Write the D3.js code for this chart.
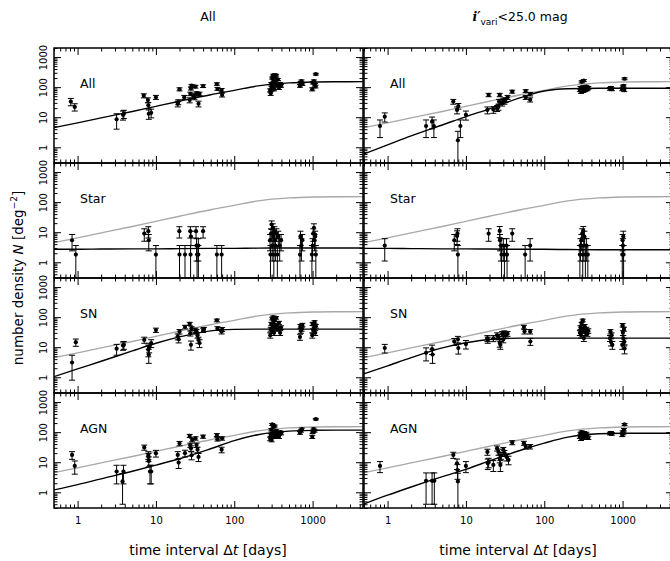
<!DOCTYPE html>
<html>
<head>
<meta charset="utf-8">
<script src="https://cdn.jsdelivr.net/npm/d3@7"></script>
<style>
  body { margin: 0; background: #fff; }
  text { font-family: "DejaVu Sans", sans-serif; fill: #000; }
</style>
</head>
<body>
<svg id="chart" width="670" height="561"></svg>
<script>
// ---- data: [dt days, N deg^-2, sigma] ----
const allAll = [[0.82,33,9],[0.92,22,6],[3.15,8.5,4.5],[3.8,12,4],[3.9,13,4],
  [7.0,52,8],[7.9,37,7],[8.0,25,6],[8.1,13,4.5],[8.7,14,4.5],[10,46,7],
  [19,28,6],[19.3,32,6],[20,85,10],[23,46,7],[27,37,7],[27.5,60,8],[28,90,10],[28.5,112,11],
  [30,52,8],[31,45,7],[32,104,11],[33,62,8],[34,58,8],[35,28,6],[36,60,8],[40,108,11],
  [60,127,12],[61,88,10],[69,80,10],[70,55,8],
  [288,78,10],[292,62,9],[297,130,12],[300,95,11],[305,200,15],[310,105,11],[315,250,17],
  [318,170,14],[322,85,10],[328,225,16],[335,140,13],[342,250,17],[350,115,12],[360,180,14],
  [372,95,11],[385,130,12],[395,110,11],
  [690,110,11],[705,140,13],[720,160,13],[740,125,12],
  [990,85,10],[1010,140,13],[1040,160,13],[1070,120,12],[1090,105,11],[1100,270,18]];

const allBright = [[0.8,5.1,3],[0.92,10.4,3.5],[3.1,5.1,3],[3.7,7.1,3],[3.9,5.1,3],
  [6.9,33,6],[7.7,17.4,4.5],[7.9,1.7,1.7],[8.0,23.6,5],[8.5,5.1,3],[10,12,4],
  [18.8,17.4,4.5],[19.5,55,7],[22.4,18,4.5],[25,20,4.5],[26,22,5],[26.5,33,6],[27,55,7],
  [29,29,5.5],[30,37,6],[31,33,6],[32,38,6],[34,46,7],[39,71,8],[58,74,8],[58,46,7],[66,59,8],[66,38,6],
  [285,80,9],[290,95,10],[295,70,8],[300,150,12],[305,85,9],[310,100,10],[315,75,9],[320,165,13],
  [328,90,10],[335,80,9],[345,105,10],[355,85,9],[365,95,10],
  [690,88,9],[710,95,10],[730,85,9],
  [990,85,9],[1010,100,10],[1030,110,10],[1050,80,9],[1060,190,14]];

const starAll = [[0.85,5.4,3],[0.95,1.8,1.8],[7.1,9,4],[8.0,10.8,4.4],[8.1,5.4,3],[10,1.8,1.8],
  [19.9,10.8,4.4],[20,1.8,1.8],[23.5,1.8,1.8],[27.5,10.8,4.4],[28,7.2,3.6],[27.7,1.8,1.8],
  [32.5,10.8,4.4],[33,3.6,2.5],[33.5,1.8,1.8],[34.8,3.6,2.5],[34.8,1.8,1.8],[40,10.8,4.4],
  [60,1.8,1.8],[69,1.8,1.8],
  [286,5.4,3],[290,1.8,1.8],[295,9,4],[300,18,5.7],[305,3.6,2.5],[310,14,5],[315,7.2,3.6],
  [320,1.8,1.8],[325,10.8,4.4],[330,5.4,3],[335,3.6,2.5],[345,9,4],[355,1.8,1.8],[365,7.2,3.6],
  [380,3.6,2.5],[396,5.4,3],
  [690,1.8,1.8],[700,7.2,3.6],[720,3.6,2.5],[740,5.4,3],
  [980,1.8,1.8],[1000,3.6,2.5],[1020,9,4],[1040,14,5],[1060,5.4,3],[1080,7.2,3.6],[1100,1.8,1.8]];

const starBright = [[0.92,3.6,2.5],[7.1,5.4,3],[7.7,7.5,3.6],[7.8,9,4],[7.9,1.8,1.8],[19.5,9,4],
  [27,11,4.4],[27.2,5.4,3],[28,3.6,2.5],[28.5,1.8,1.8],[30,3.6,2.5],[31,1.8,1.8],[33,3.6,2.5],
  [33.5,1.8,1.8],[39,9,4],[57,1.8,1.8],[66,3.6,2.5],
  [285,1.8,1.8],[290,3.6,2.5],[298,5.4,3],[305,9,4],[310,1.8,1.8],[315,11,4.4],[320,3.6,2.5],
  [325,7.2,3.6],[335,1.8,1.8],[345,3.6,2.5],[360,1.8,1.8],
  [990,1.8,1.8],[1000,5.4,3],[1010,3.6,2.5],[1020,7.2,3.6],[1030,1.8,1.8]];

const snAll = [[0.85,3.1,2.3],[0.95,14.7,4],[3.15,8.9,3.5],[3.8,11.4,3.5],[3.9,12,3.5],
  [7.1,17.5,4],[8.0,8.3,3.5],[8.1,5.7,2.8],[8.2,10,3.5],[8.7,13.7,4],[10,37,6],
  [19,22.5,5],[19.5,18.4,4.5],[20,33,5.5],[23.5,47,6.5],[27,60,7],[27.5,29,5.5],[28,12,4],
  [28.5,42,6],[32,37,6],[33,33,5.5],[34,25,5],[35,17.5,4],[36,13.7,4],[40,37,6],[41,39,6],
  [60,78,8],[61,42,6],[69,33,5.5],[70,39,6],
  [288,25,5],[292,40,6],[297,60,7],[300,35,6],[305,90,9],[310,50,7],[315,100,9],[318,70,8],
  [322,30,5.5],[328,80,8],[335,45,6.5],[342,95,9],[350,55,7],[360,40,6],[372,65,7.5],
  [385,30,5.5],[395,45,6.5],
  [690,22,5],[700,50,7],[710,35,6],[725,40,6],[740,55,7],
  [990,25,5],[1000,60,7],[1020,35,6],[1040,45,6.5],[1060,68,8],[1080,30,5.5],[1100,50,7]];

const snBright = [[0.92,9.4,3],[3.1,6.5,3],[3.7,8.7,3],[3.75,5.7,2.8],[7.1,15.5,4],[7.9,18.4,4.5],
  [8.0,9.4,3.5],[10,12.7,4],
  [18.8,19.8,4.5],[19,17.5,4],[22.4,19.8,4.5],[25,25,5],[26,22,4.5],[27,14,4],[27.5,12,3.5],
  [29,28,5],[30,18,4],[31,30,5],[32,25,5],[34,28,5],[55,47,6.5],[56,33,5.5],[66,33,5.5],[66.5,15.5,4],
  [285,30,5.5],[290,45,6.5],[295,25,5],[300,60,7],[305,35,6],[310,78,8],[315,40,6],[320,20,4.5],
  [328,50,7],[335,30,5.5],[345,40,6],[355,28,5],[365,35,6],
  [690,20,4.5],[700,33,5.5],[710,15,4],[725,25,5],[740,12,3.5],
  [990,12,3.5],[1000,54,7],[1010,30,5.5],[1020,20,4.5],[1040,40,6],[1050,15,4],[1060,9,3]];

const agnAll = [[0.85,17.4,5],[0.92,7.5,3.5],[3.15,4.9,3],[3.75,2.3,1.9],[3.85,4.9,3],
  [7.1,31,6],[8.0,17.4,5],[8.05,15,4.5],[8.1,11,4],[8.4,4.9,3],[8.7,4.9,3],[10,19.8,5],
  [19,17.4,5],[19.5,9.7,3.5],[20,42,7],[23.5,20,5],[27,75,9],[27.5,37,6],[28,29,6],[28.5,17,5],
  [29,55,7.5],[32,62,8],[33,37,6],[34,26,5.5],[35,15,4.5],[40,71,8.5],[60,80,9],[61,58,7.5],
  [69,26,5.5],[70,62,8],
  [288,60,8],[292,80,9],[297,120,11],[300,55,7.5],[305,180,13],[310,90,9],[315,150,12],[318,70,8.5],
  [322,100,10],[328,160,12],[335,75,9],[342,110,10],[350,85,9],[360,95,10],[372,70,8.5],
  [385,100,10],[395,90,9],
  [690,95,10],[710,110,10],[730,125,11],
  [990,70,8.5],[1000,100,10],[1030,125,11],[1060,110,10],[1100,270,16]];

const agnBright = [[0.8,7.5,3],[3.1,2.4,2],[3.7,2.4,2],[3.95,2.4,2],[6.9,17.4,4],[7.7,9.2,3.5],
  [7.8,5.5,2.8],[7.9,2.3,2],[10,7.5,3],
  [18.8,22,5],[19,9.2,3.5],[19.5,10,3.5],[22.4,8.1,3.2],[25,29,5.5],[26,22,5],[27,13.5,4],
  [27.5,8.1,3.2],[28,17,4.5],[30,26,5],[31,20,4.5],[33,15,4],[35,12,3.8],[39,45,7],[55,43,6.5],
  [58,33,5.5],[66,33,5.5],
  [285,70,8],[290,90,9],[295,60,7.5],[300,100,10],[305,75,8.5],[310,85,9],[315,65,8],[320,95,9.5],
  [328,70,8],[335,80,9],[345,90,9],[355,75,8.5],[365,65,8],
  [690,90,9],[710,95,9.5],[730,88,9],
  [990,80,9],[1000,100,10],[1020,90,9],[1040,120,11],[1060,180,13]];

// fitted curves, sampled at curveT
const curveT       = [0.5, 1,   2,   5,   10,  20, 50, 100, 200, 500, 1000, 2000, 4400];
const fitAllAll    = [4.5, 6.5, 9.5, 15.5, 23, 34, 56, 78, 110, 138, 148, 151, 152];
const fitAllBright = [0.6, 1.2, 2.4, 5.5, 10.5, 19, 45, 74, 88, 92, 92, 92, 92];
const fitStarAll   = [2.7, 2.7, 2.75, 2.8, 2.8, 2.85, 2.9, 2.9, 2.95, 3.0, 3.0, 3.0, 3.0];
const fitStarBright= [2.9, 2.9, 2.85, 2.8, 2.8, 2.75, 2.7, 2.7, 2.65, 2.6, 2.6, 2.6, 2.6];
const fitSnAll     = [1.05, 1.9, 3.4, 7.5, 13.5, 22, 35, 39, 40, 40, 40, 40, 40];
const fitSnBright  = [1.3, 2.4, 4.5, 9.5, 14, 18, 20, 20, 20, 20, 20, 20, 20];
const fitAgnAll    = [1.2, 1.8, 2.8, 5, 8, 13, 28, 52, 82, 108, 115, 117, 117];
const fitAgnBright = [0.41, 0.8, 1.5, 3.3, 5.8, 11, 25, 43, 68, 88, 92, 92, 92];

const rowLabels = ['All', 'Star', 'SN', 'AGN'];
const colTitles = ['All', null];
const xTickLabels = [1, 10, 100, 1000];
const yTickLabels = [1, 10, 100, 1000];

const panels = [
  {row: 0, col: 0, pts: allAll,    fit: fitAllAll,    ref: false},
  {row: 0, col: 1, pts: allBright, fit: fitAllBright, ref: true},
  {row: 1, col: 0, pts: starAll,   fit: fitStarAll,   ref: true},
  {row: 1, col: 1, pts: starBright,fit: fitStarBright,ref: true},
  {row: 2, col: 0, pts: snAll,     fit: fitSnAll,     ref: true},
  {row: 2, col: 1, pts: snBright,  fit: fitSnBright,  ref: true},
  {row: 3, col: 0, pts: agnAll,    fit: fitAgnAll,    ref: true},
  {row: 3, col: 1, pts: agnBright, fit: fitAgnBright, ref: true}
];

const svg = d3.select('#chart');
const panelW = 309, panelH = 115;
const colX = [54, 364];
const rowY = [48, 163, 278, 393];

const x = d3.scaleLog().domain([0.5, 4400]).range([0, panelW]);
const y = d3.scaleLog().domain([0.3, 2000]).range([panelH, 0]);

const isMajor = v => Math.abs(Math.log10(v) - Math.round(Math.log10(v))) < 1e-6;
const xMajor = x.ticks().filter(isMajor);
const xMinor = x.ticks().filter(v => !isMajor(v));
const yMajor = y.ticks().filter(isMajor);
const yMinor = y.ticks().filter(v => !isMajor(v));

const line = d3.line()
  .x(d => x(d[0]))
  .y(d => y(d[1]))
  .curve(d3.curveMonotoneX);

svg.append('defs').append('clipPath')
  .attr('id', 'clip')
  .append('rect')
  .attr('width', panelW).attr('height', panelH);

function ticks(g, axisFn, vals, size) {
  g.call(axisFn.tickValues(vals).tickSize(size).tickSizeOuter(0).tickFormat(''))
   .call(a => a.select('.domain').remove())
   .call(a => a.selectAll('.tick line').attr('stroke', '#000').attr('stroke-width', 1));
}

panels.forEach(p => {
  const g = svg.append('g')
    .attr('transform', `translate(${colX[p.col]},${rowY[p.row]})`);

  const plot = g.append('g').attr('clip-path', 'url(#clip)');

  if (p.ref) {
    plot.append('path')
      .datum(curveT.map((t, i) => [t, fitAllAll[i]]))
      .attr('d', line)
      .attr('fill', 'none')
      .attr('stroke', '#a8a8a8')
      .attr('stroke-width', 1.4);
  }
  plot.append('path')
    .datum(curveT.map((t, i) => [t, p.fit[i]]))
    .attr('d', line)
    .attr('fill', 'none')
    .attr('stroke', '#000')
    .attr('stroke-width', 1.4);

  const pts = plot.selectAll('g.pt')
    .data(p.pts)
    .enter().append('g')
    .attr('class', 'pt');

  const lo = d => y(Math.max(d[1] - d[2], 0.05));
  const hi = d => y(d[1] + d[2]);

  pts.append('line')
    .attr('x1', d => x(d[0])).attr('x2', d => x(d[0]))
    .attr('y1', lo).attr('y2', hi)
    .attr('stroke', '#000').attr('stroke-width', 1);
  pts.append('line')
    .attr('x1', d => x(d[0]) - 3).attr('x2', d => x(d[0]) + 3)
    .attr('y1', hi).attr('y2', hi)
    .attr('stroke', '#000').attr('stroke-width', 1);
  pts.append('line')
    .attr('x1', d => x(d[0]) - 3).attr('x2', d => x(d[0]) + 3)
    .attr('y1', lo).attr('y2', lo)
    .attr('stroke', '#000').attr('stroke-width', 1);
  pts.append('circle')
    .attr('cx', d => x(d[0]))
    .attr('cy', d => y(d[1]))
    .attr('r', 2.1)
    .attr('fill', '#000');

  // ticks on all four sides, pointing inward
  ticks(g.append('g'), d3.axisTop(x), xMajor, -7);
  ticks(g.append('g'), d3.axisTop(x), xMinor, -3.5);
  ticks(g.append('g').attr('transform', `translate(0,${panelH})`), d3.axisBottom(x), xMajor, -7);
  ticks(g.append('g').attr('transform', `translate(0,${panelH})`), d3.axisBottom(x), xMinor, -3.5);
  ticks(g.append('g'), d3.axisLeft(y), yMajor, -7);
  ticks(g.append('g'), d3.axisLeft(y), yMinor, -3.5);
  ticks(g.append('g').attr('transform', `translate(${panelW},0)`), d3.axisRight(y), yMajor, -7);
  ticks(g.append('g').attr('transform', `translate(${panelW},0)`), d3.axisRight(y), yMinor, -3.5);

  g.append('rect')
    .attr('width', panelW).attr('height', panelH)
    .attr('fill', 'none')
    .attr('stroke', '#000')
    .attr('stroke-width', 1.5);

  g.append('text')
    .attr('x', 26)
    .attr('y', 40)
    .attr('font-size', 12.5)
    .text(rowLabels[p.row]);

  if (p.col === 0) {
    const ya = g.append('g')
      .call(d3.axisLeft(y).tickValues(yTickLabels).tickSize(0).tickFormat(d3.format('d')));
    ya.select('.domain').remove();
    ya.selectAll('text')
      .attr('transform', 'rotate(-90)')
      .attr('x', 0).attr('y', -7).attr('dy', 0)
      .attr('text-anchor', 'middle')
      .attr('font-size', 10)
      .attr('font-family', '"Liberation Sans", Arial, sans-serif');
  }
  if (p.row === 3) {
    const xa = g.append('g')
      .attr('transform', `translate(0,${panelH})`)
      .call(d3.axisBottom(x).tickValues(xTickLabels).tickSize(0).tickPadding(9).tickFormat(d3.format('d')));
    xa.select('.domain').remove();
    xa.selectAll('text')
      .attr('font-size', 10)
      .attr('font-family', '"Liberation Sans", Arial, sans-serif');
  }
});

// column titles
svg.append('text')
  .attr('x', 208).attr('y', 21)
  .attr('text-anchor', 'middle')
  .attr('font-size', 12.5)
  .text(colTitles[0]);

const t2 = svg.append('text')
  .attr('x', 520).attr('y', 21)
  .attr('text-anchor', 'middle')
  .attr('font-size', 12.5);
t2.append('tspan').attr('font-style', 'italic').attr('font-weight', 'bold')
  .attr('font-family', '"DejaVu Serif", serif').text('i′');
t2.append('tspan').attr('font-size', 9).attr('dy', 4).text('vari');
t2.append('tspan').attr('dy', -4).text('<25.0 mag');

// x titles
[208, 518].forEach(cx => {
  const t = svg.append('text')
    .attr('x', cx).attr('y', 555)
    .attr('text-anchor', 'middle')
    .attr('font-size', 14);
  t.append('tspan').text('time interval Δ');
  t.append('tspan').attr('font-style', 'italic').text('t');
  t.append('tspan').text(' [days]');
});

// y title
const yt = svg.append('text')
  .attr('transform', 'translate(23,278) rotate(-90)')
  .attr('text-anchor', 'middle')
  .attr('font-size', 13.5);
yt.append('tspan').text('number density ');
yt.append('tspan').attr('font-style', 'italic').text('N');
yt.append('tspan').text(' [deg');
yt.append('tspan').attr('font-size', 9).attr('dy', -6).text('−2');
yt.append('tspan').attr('dy', 6).text(']');
</script>
</body>
</html>
